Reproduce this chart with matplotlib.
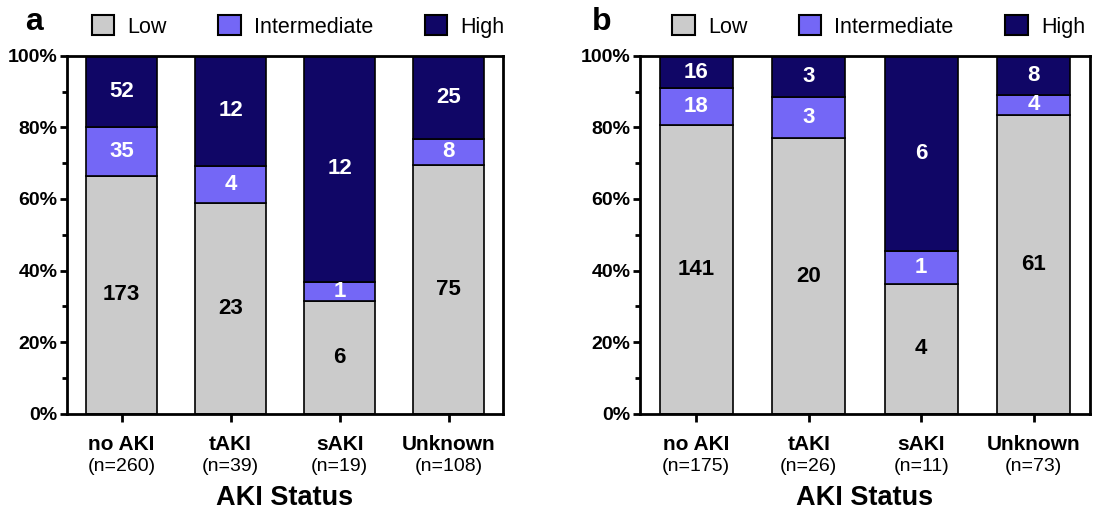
import numpy as np
import matplotlib.pyplot as plt
from matplotlib.patches import Patch
from matplotlib.ticker import MultipleLocator, FuncFormatter
import matplotlib.transforms as mtransforms

plt.rcParams['font.family'] = ['Liberation Sans', 'DejaVu Sans']

# --- dados ---
categories = ["no AKI", "tAKI", "sAKI", "Unknown"]
levels = ["Low", "Intermediate", "High"]

low_a = [173, 23, 6, 75]
mid_a = [35, 4, 1, 8]
high_a = [52, 12, 12, 25]
n_a = [260, 39, 19, 108]

low_b = [141, 20, 4, 61]
mid_b = [18, 3, 1, 4]
high_b = [16, 3, 6, 8]
n_b = [175, 26, 11, 73]

colors = ["#cbcbcb", "#7467f6", "#100666"]
text_colors = ["black", "white", "white"]


def draw_panel(ax, low, mid, high, n, letter, letter_x):
    counts = np.array([low, mid, high], dtype=float)
    totals = counts.sum(axis=0)
    pct = counts / totals * 100
    x = np.arange(len(categories))
    bottom = np.zeros(len(categories))
    for i in range(3):
        ax.bar(x, pct[i], 0.65, bottom=bottom, color=colors[i],
               edgecolor="black", linewidth=1.2, zorder=2)
        for j in range(len(categories)):
            ax.text(x[j], bottom[j] + pct[i][j] / 2, str(int(counts[i][j])),
                    ha="center", va="center", color=text_colors[i],
                    fontsize=16, fontweight="bold", zorder=3)
        bottom += pct[i]

    ax.set_xlim(-0.5, len(categories) - 0.5)
    ax.set_ylim(0, 100)
    ax.yaxis.set_major_locator(MultipleLocator(20))
    ax.yaxis.set_minor_locator(MultipleLocator(10))
    ax.yaxis.set_major_formatter(FuncFormatter(lambda v, p: f"{int(v)}%"))
    ax.set_xticks(x)
    ax.set_xticklabels(categories, fontsize=15, fontweight="bold")
    ax.tick_params(axis="y", which="major", length=5, width=2, labelsize=14,
                   pad=2)
    ax.tick_params(axis="y", which="minor", length=3.5, width=2)
    ax.tick_params(axis="x", length=6, width=2, pad=9)
    for lab in ax.get_yticklabels():
        lab.set_fontweight("bold")
    for s in ax.spines.values():
        s.set_linewidth(2)

    # (n=...) abaixo das categorias
    trans = mtransforms.blended_transform_factory(ax.transData, ax.transAxes)
    for j in range(len(categories)):
        ax.text(x[j], -0.148, f"(n={n[j]})", transform=trans, ha="center",
                va="center", fontsize=14)
    ax.text(0.5, -0.235, "AKI Status", transform=ax.transAxes, ha="center",
            va="center", fontsize=19.5, fontweight="bold")

    handles = [Patch(facecolor=c, edgecolor="black", linewidth=1.5, label=l)
               for c, l in zip(colors, levels)]
    ax.legend(handles=handles, loc="lower center", bbox_to_anchor=(0.53, 1.02),
              ncol=3, frameon=False, fontsize=15.5, handlelength=1.05,
              handleheight=1.05, columnspacing=2.4, handletextpad=0.6,
              borderaxespad=0.1)
    ax.text(letter_x, 1.095, letter, transform=ax.transAxes, fontsize=23,
            fontweight="bold", ha="center", va="center")


fig = plt.figure(figsize=(10.93, 5.16), dpi=100)
ax1 = fig.add_axes([0.0613, 0.198, 0.399, 0.694])
ax2 = fig.add_axes([0.5856, 0.198, 0.4117, 0.694])

draw_panel(ax1, low_a, mid_a, high_a, n_a, "a", -0.075)
draw_panel(ax2, low_b, mid_b, high_b, n_b, "b", -0.085)

fig.savefig("out.png", dpi=100)
